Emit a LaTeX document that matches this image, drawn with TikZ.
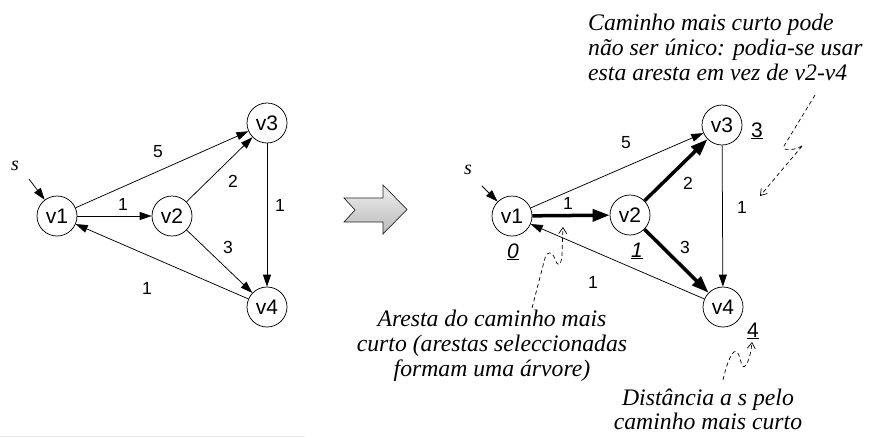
\documentclass[tikz,border=0pt]{standalone}
\usepackage{fontspec}
\setmainfont{Liberation Serif}
\setsansfont{Liberation Sans}
\usetikzlibrary{arrows.meta}
\begin{document}
\begin{tikzpicture}[x=1pt,y=-1pt,
  vtx/.style={circle,draw,line width=0.75pt,minimum size=40pt,inner sep=0pt,font=\sffamily\fontsize{21}{21}\selectfont},
  edg/.style={line width=0.75pt,-{Triangle[length=12pt,width=8pt]}},
  tedg/.style={line width=3.5pt,-{Triangle[length=17pt,width=12pt]}},
  wt/.style={font=\sffamily\fontsize{17.5}{17.5}\selectfont,inner sep=0pt},
  dist/.style={font=\sffamily\fontsize{21}{21}\selectfont,inner sep=0pt,anchor=base},
  note/.style={font=\itshape\fontsize{23.7}{25}\selectfont,inner sep=0pt},
  ptr/.style={dashed,dash pattern=on 4pt off 3pt,line width=0.7pt,-{Straight Barb[length=6pt,width=8pt]}},
  slab/.style={font=\itshape\fontsize{20}{20}\selectfont,inner sep=0pt}
]
\useasboundingbox (0,0) rectangle (886,437);

% ---------- left graph ----------
\node[vtx] (a1) at (57,216) {v1};
\node[vtx] (a2) at (172,216) {v2};
\node[vtx] (a3) at (267,123) {v3};
\node[vtx] (a4) at (267,307) {v4};
\node[slab] (as) at (15,166) {s};
\coordinate (asa) at (29,179);
\draw[edg] (asa) -- (a1);
\draw[edg] (a1) -- (a2);
\draw[edg] (a1) -- (a3);
\draw[edg] (a2) -- (a3);
\draw[edg] (a2) -- (a4);
\draw[edg] (a3) -- (a4);
\draw[edg] (a4) -- (a1);
\node[wt] (aw13) at (158,152) {5};
\node[wt] (aw12) at (123,204) {1};
\node[wt] (aw23) at (233,181) {2};
\node[wt] (aw24) at (228,247) {3};
\node[wt] (aw34) at (280,205) {1};
\node[wt] (aw41) at (147,288) {1};

% ---------- block arrow ----------
\shade[top color=gray!12, bottom color=gray!55, draw=black!85, line width=0.7pt]
  (344,198) -- (383,198) -- (383,185) -- (407,209.5) -- (383,234) -- (383,222) -- (344,222) -- (355,210) -- cycle;

% ---------- right graph ----------
\node[vtx] (b1) at (512,216) {v1};
\node[vtx] (b2) at (630,215) {v2};
\node[vtx] (b3) at (722,125) {v3};
\node[vtx] (b4) at (723,307) {v4};
\node[slab] (bs) at (468,170) {s};
\coordinate (bsa) at (482,186);
\draw[edg] (bsa) -- (b1);
\draw[tedg] (b1) -- (b2);
\draw[edg] (b1) -- (b3);
\draw[tedg] (b2) -- (b3);
\draw[tedg] (b2) -- (b4);
\draw[edg] (b3) -- (b4);
\draw[edg] (b4) -- (b1);
\node[wt] (bw13) at (626,143) {5};
\node[wt] (bw12) at (568,203) {1};
\node[wt] (bw23) at (688,183) {2};
\node[wt] (bw24) at (685,247) {3};
\node[wt] (bw34) at (742,207) {1};
\node[wt] (bw41) at (593,282) {1};

\node[dist] (d1) at (513,258) {\underline{\itshape 0}};
\node[dist] (d2) at (637,257) {\underline{\itshape 1}};
\node[dist] (d3) at (757,137) {\underline{3}};
\node[dist] (d4) at (753,337) {\underline{4}};

% ---------- annotations ----------
\node[note,align=left,anchor=north west] (n1) at (588,14)
  {Caminho mais curto pode\\não ser único: podia-se usar\\esta aresta em vez de v2-v4};
\node[note,align=center,anchor=north] (n2) at (492,310)
  {Aresta do caminho mais\\curto (arestas seleccionadas\\formam uma árvore)};
\node[note,align=center,anchor=north,font=\itshape\fontsize{23.7}{24}\selectfont] (n3) at (708,389)
  {Distância a s pelo\\caminho mais curto};

\coordinate (p1s) at (815,95);
\coordinate (p1e) at (760,196);
\draw[ptr] (p1s) -- (784,146) .. controls (781,152) and (798,150) .. (803,145) -- (p1e);

\coordinate (p2s) at (532,308);
\coordinate (p2e) at (563,227);
\draw[ptr] (p2s) -- (545,258) .. controls (547,251) and (552,251) .. (555,259)
  .. controls (557,266) and (561,268) .. (562,255) -- (p2e);

\coordinate (p3s) at (723,380);
\coordinate (p3e) at (752,342);
\draw[ptr] (p3s) .. controls (727,362) and (733,348) .. (737,352)
  .. controls (741,356) and (741,370) .. (745,366) .. controls (749,362) and (751,352) .. (p3e);

% faint rule at the bottom
\draw[gray!18,line width=1pt] (0,436) -- (305,436);
\end{tikzpicture}
\end{document}
